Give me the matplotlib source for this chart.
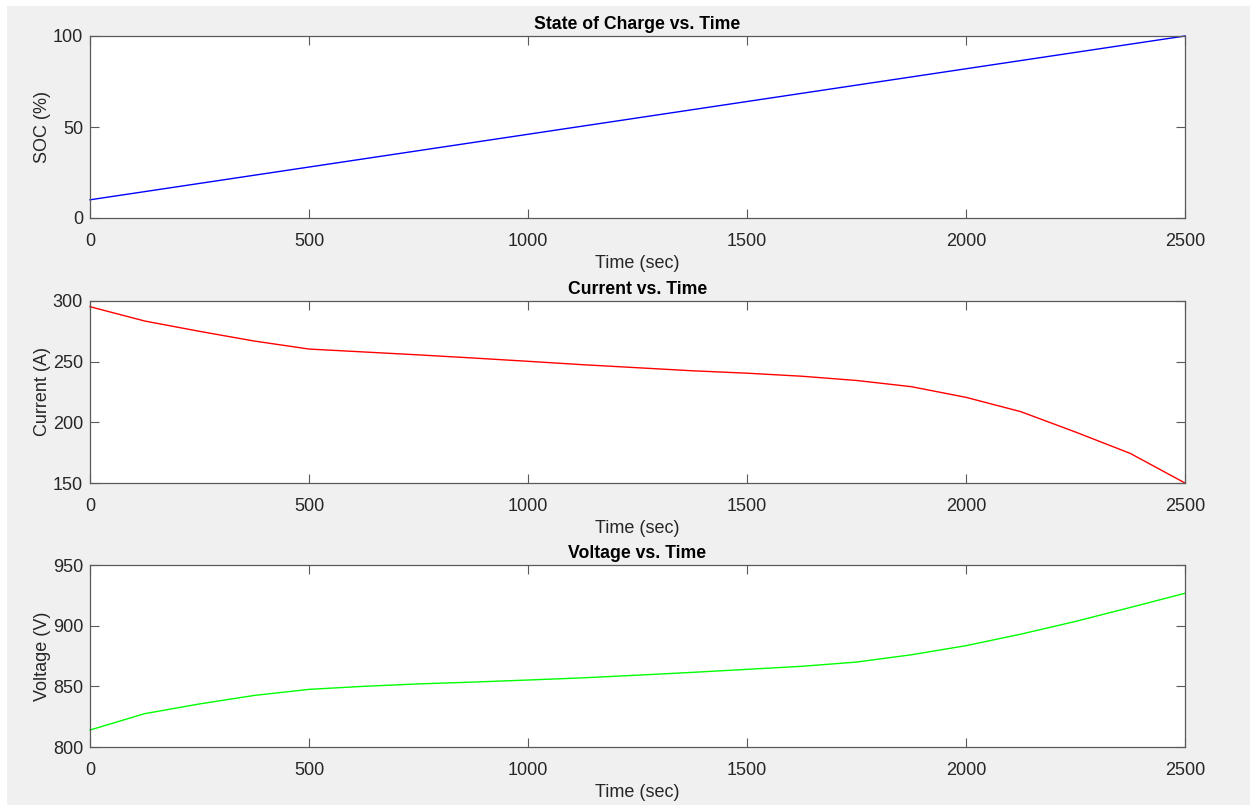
import matplotlib
matplotlib.use("Agg")
import matplotlib.pyplot as plt
from matplotlib.patches import Rectangle

time_s = [0, 125, 250, 375, 500, 625, 750, 875, 1000, 1125, 1250, 1375,
          1500, 1625, 1750, 1875, 2000, 2125, 2250, 2375, 2500]
soc_pct = [10, 14.5, 19, 23.5, 28, 32.5, 37, 41.5, 46, 50.5, 55, 59.5,
           64, 68.5, 73, 77.5, 82, 86.5, 91, 95.5, 100]
current_a = [295.3, 283.5, 275, 267, 260.4, 258, 255.6, 253, 250.3, 247.5, 245,
             242.5, 240.5, 238, 234.5, 229.4, 220.6, 208.8, 192, 174.4, 150]
voltage_v = [814, 827.5, 835.5, 842.5, 847.5, 850, 852, 853.5, 855.2, 857, 859.2,
             861.5, 864, 866.5, 870, 876, 883.5, 893, 903.5, 915, 926.7]

x_ticks = [0, 500, 1000, 1500, 2000, 2500]
panels = [
    ("State of Charge vs. Time", "SOC (%)", soc_pct, "#0000ff", (0, 100), [0, 50, 100]),
    ("Current vs. Time", "Current (A)", current_a, "#ff0000", (150, 300), [150, 200, 250, 300]),
    ("Voltage vs. Time", "Voltage (V)", voltage_v, "#00ff00", (800, 950), [800, 850, 900, 950]),
]

plt.rcParams['font.family'] = ['Liberation Sans', 'DejaVu Sans']

W, H = 1250, 805
fig = plt.figure(figsize=(W / 100, H / 100), dpi=100, facecolor="white")
fig.patches.append(Rectangle((7 / W, 0), 1 - 7 / W, (H - 6) / H,
                             transform=fig.transFigure, facecolor="#f0f0f0",
                             edgecolor="none", zorder=-10))

tops = [36, 301, 565]
ax_h = 182
left, right = 90, 1185
txt = "#262626"
spine_c = "#5a5a5a"
for (title, ylabel, vals, color, ylim, yt), top in zip(panels, tops):
    ax = fig.add_axes([left / W, 1 - (top + ax_h) / H, (right - left) / W, ax_h / H])
    ax.set_facecolor("white")
    ax.plot(time_s, vals, color=color, lw=1.0, clip_on=False)
    ax.set_xlim(0, 2500)
    ax.set_ylim(*ylim)
    ax.set_xticks(x_ticks)
    ax.set_yticks(yt)
    ax.tick_params(direction="in", length=6.5, width=0.8, top=True, right=True,
                   labelsize=13, colors=txt, color=spine_c)
    ax.tick_params(axis="x", pad=10.5)
    ax.tick_params(axis="y", pad=5)
    for s in ax.spines.values():
        s.set_color(spine_c)
        s.set_linewidth(0.9)
    ax.set_title(title, fontsize=12.7, fontweight="bold", color="#000000", pad=5)
    ax.set_xlabel("Time (sec)", fontsize=13, color=txt, labelpad=4)
    ax.set_ylabel(ylabel, fontsize=13, color=txt, labelpad=1.5)

fig.savefig("out.png", dpi=100, facecolor=fig.get_facecolor())
